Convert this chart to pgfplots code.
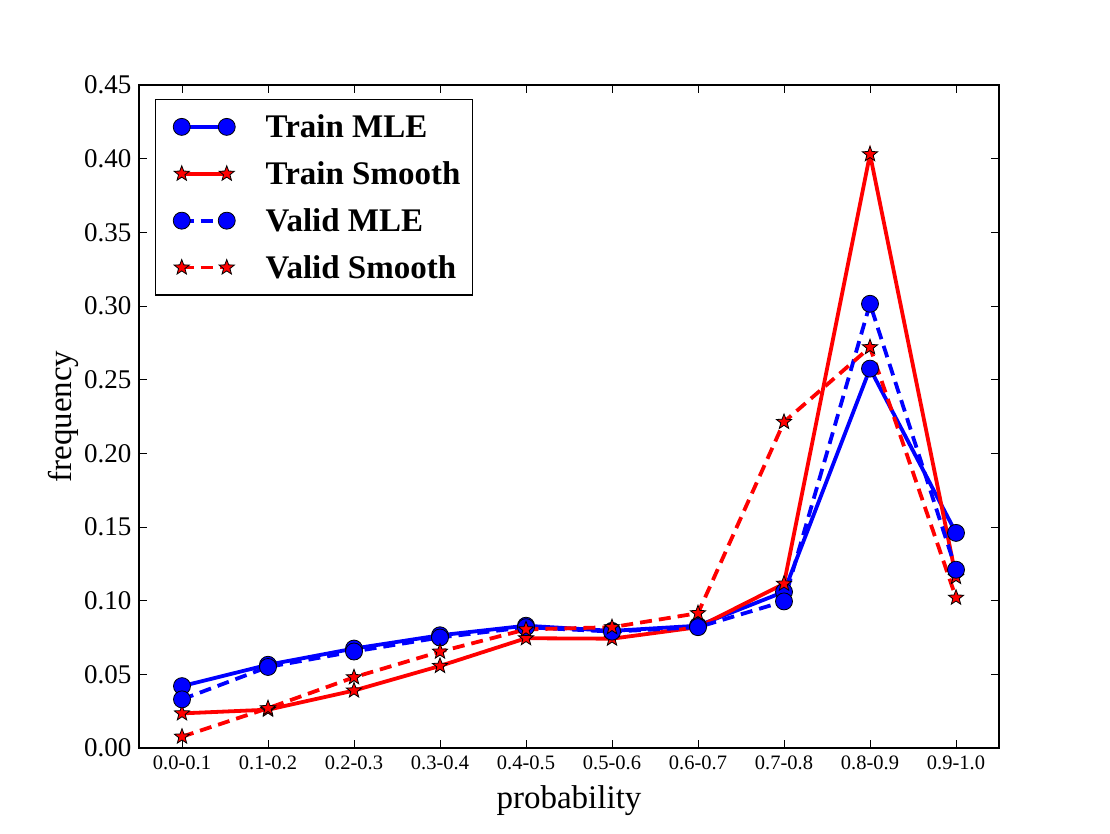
\documentclass[border=0pt]{standalone}
\usepackage{fontspec}
\setmainfont{Liberation Serif}
\usepackage{pgfplots}
\pgfplotsset{compat=1.18}
\pgfdeclareplotmark{fstar}{%
  \pgfpathmoveto{\pgfpointpolar{90}{\pgfplotmarksize}}%
  \pgfpathlineto{\pgfpointpolar{126}{0.42\pgfplotmarksize}}%
  \pgfpathlineto{\pgfpointpolar{162}{\pgfplotmarksize}}%
  \pgfpathlineto{\pgfpointpolar{198}{0.42\pgfplotmarksize}}%
  \pgfpathlineto{\pgfpointpolar{234}{\pgfplotmarksize}}%
  \pgfpathlineto{\pgfpointpolar{270}{0.42\pgfplotmarksize}}%
  \pgfpathlineto{\pgfpointpolar{306}{\pgfplotmarksize}}%
  \pgfpathlineto{\pgfpointpolar{342}{0.42\pgfplotmarksize}}%
  \pgfpathlineto{\pgfpointpolar{18}{\pgfplotmarksize}}%
  \pgfpathlineto{\pgfpointpolar{54}{0.42\pgfplotmarksize}}%
  \pgfpathclose
  \pgfusepathqfillstroke}
\begin{document}
\begin{tikzpicture}
\begin{axis}[name=ax, scale only axis, width=860pt, height=663pt,
  xmin=-0.5, xmax=9.5, ymin=0, ymax=0.45,
  xtick={0,...,9},
  xticklabels={0.0-0.1,0.1-0.2,0.2-0.3,0.3-0.4,0.4-0.5,0.5-0.6,0.6-0.7,0.7-0.8,0.8-0.9,0.9-1.0},
  ytick={0,0.05,0.1,0.15,0.2,0.25,0.3,0.35,0.4,0.45},
  yticklabel={\pgfmathprintnumber[fixed,fixed zerofill,precision=2,assume math mode=true]{\tick}},
  yticklabel style={font=\fontsize{27}{31}\selectfont, xshift=-4pt},
  xticklabel style={font=\fontsize{20.5}{24}\selectfont, yshift=-4pt},
  tick align=inside, major tick length=8pt,
  every tick/.style={black, line width=1pt},
  axis line style={line width=1.5pt},
  xlabel={probability}, ylabel={frequency},
  every axis x label/.style={at={(axis description cs:0.5,-0.0905)}, anchor=base, font=\fontsize{33}{38}\selectfont},
  every axis y label/.style={at={(axis description cs:-0.078,0.5)}, rotate=90, anchor=base, font=\fontsize{33}{38}\selectfont},
  legend style={at={(0.0186,0.979)}, anchor=north west, draw=black, line width=1.5pt,
    font=\bfseries\fontsize{33}{38}\selectfont, row sep=18.5pt, inner xsep=10pt, inner ysep=13pt},
  legend cell align=left,
  legend image code/.code={\path[draw=none, fill=none] (-16pt,0pt) -- (82pt,0pt);
    \draw[mark repeat=2, mark phase=1, #1] plot coordinates {(0pt,0pt) (22.5pt,0pt) (45pt,0pt)};},
]
\addplot[blue, line width=3.8pt, mark=*, mark size=8.5pt, mark options={solid, fill=blue, draw=black, line width=0.8pt}]
 coordinates {(0,0.042) (1,0.0565) (2,0.0675) (3,0.0765) (4,0.083) (5,0.0795) (6,0.083) (7,0.106) (8,0.2575) (9,0.146)};
\addlegendentry{Train MLE}
\addplot[red, line width=3.8pt, mark=fstar, mark size=8pt, mark options={solid, fill=red, draw=black, line width=0.8pt}]
 coordinates {(0,0.0235) (1,0.026) (2,0.039) (3,0.0557) (4,0.0745) (5,0.0742) (6,0.082) (7,0.1115) (8,0.403) (9,0.116)};
\addlegendentry{Train Smooth}
\addplot[blue, line width=3.8pt, dash pattern=on 12pt off 7pt, mark=*, mark size=8.5pt, mark options={solid, fill=blue, draw=black, line width=0.8pt}]
 coordinates {(0,0.033) (1,0.055) (2,0.0655) (3,0.075) (4,0.082) (5,0.079) (6,0.082) (7,0.0995) (8,0.3015) (9,0.121)};
\addlegendentry{Valid MLE}
\addplot[red, line width=3.8pt, dash pattern=on 12pt off 7pt, mark=fstar, mark size=8pt, mark options={solid, fill=red, draw=black, line width=0.8pt}]
 coordinates {(0,0.0077) (1,0.027) (2,0.048) (3,0.0654) (4,0.0805) (5,0.082) (6,0.0915) (7,0.2213) (8,0.272) (9,0.102)};
\addlegendentry{Valid Smooth}
\end{axis}
\pgfresetboundingbox
\path[use as bounding box] ([shift={(-139pt,-85pt)}]ax.south west) rectangle ([shift={(111pt,85pt)}]ax.north east);
\end{tikzpicture}
\end{document}
